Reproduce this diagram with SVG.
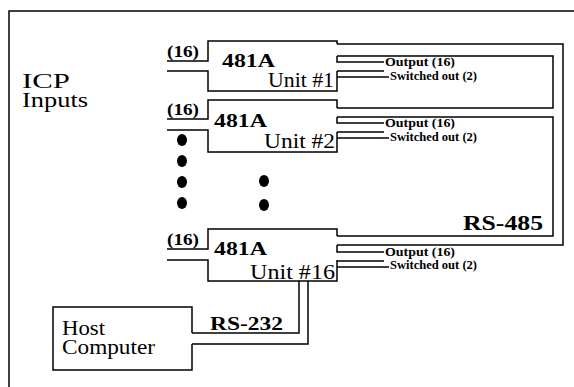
<svg xmlns="http://www.w3.org/2000/svg" width="574" height="387" viewBox="0 0 574 387">
<style>
.ln{fill:none;stroke:#000;stroke-width:1.5;stroke-linejoin:miter}
.t{font-family:"Liberation Serif","Times New Roman",serif;fill:#000}
.b{font-weight:bold}
.o{font-size:12.5px;font-weight:bold}
.dot{fill:#000}
</style>
<rect width="574" height="387" fill="#fff"/>
<rect id="frame" class="ln" x="9" y="11" width="600" height="400"/>
<g id="labels">
<text class="t" x="22" y="88" font-size="21" textLength="48" lengthAdjust="spacingAndGlyphs">ICP</text>
<text class="t" x="22" y="107" font-size="21" textLength="66" lengthAdjust="spacingAndGlyphs">Inputs</text>
<text class="t b" x="543" y="230" font-size="22" text-anchor="end" textLength="80" lengthAdjust="spacingAndGlyphs">RS-485</text>
<text class="t b" x="210" y="330" font-size="19" textLength="73" lengthAdjust="spacingAndGlyphs">RS-232</text>
</g>
<g id="unit1">
<path class="ln" d="M167,61 H208 V41 H337 V44 M167,71 H208 V91 H337 V71"/>
<text class="t b" x="167" y="57" font-size="17" textLength="32" lengthAdjust="spacingAndGlyphs">(16)</text>
<text class="t b" x="222" y="67" font-size="19" textLength="53" lengthAdjust="spacingAndGlyphs">481A</text>
<text class="t" x="334" y="87" font-size="20" text-anchor="end" textLength="66" lengthAdjust="spacingAndGlyphs">Unit #1</text>
</g>
<g id="unit2">
<path class="ln" d="M167,119 H208 V100 H337 V108 M167,130 H208 V152 H337 V132"/>
<text class="t b" x="167" y="115" font-size="17" textLength="32" lengthAdjust="spacingAndGlyphs">(16)</text>
<text class="t b" x="214" y="127" font-size="19" textLength="53" lengthAdjust="spacingAndGlyphs">481A</text>
<text class="t" x="335" y="148" font-size="20" text-anchor="end" textLength="71" lengthAdjust="spacingAndGlyphs">Unit #2</text>
</g>
<g id="unit16">
<path class="ln" d="M167,249 H208 V229 H337 V236 M167,260 H208 V281 H337 V260"/>
<text class="t b" x="167" y="245" font-size="17" textLength="32" lengthAdjust="spacingAndGlyphs">(16)</text>
<text class="t b" x="214" y="255" font-size="19" textLength="53" lengthAdjust="spacingAndGlyphs">481A</text>
<text class="t" x="335" y="279" font-size="20" text-anchor="end" textLength="85" lengthAdjust="spacingAndGlyphs">Unit #16</text>
</g>
<g id="host">
<path class="ln" d="M192,333 V307 H53 V370 H192 V344"/>
<text class="t" x="62" y="335" font-size="20" textLength="43" lengthAdjust="spacingAndGlyphs">Host</text>
<text class="t" x="62" y="354" font-size="20" textLength="93" lengthAdjust="spacingAndGlyphs">Computer</text>
</g>
<g id="ellipsis">
<ellipse class="dot" cx="182" cy="140" rx="5" ry="6"/>
<ellipse class="dot" cx="182" cy="161" rx="5" ry="6"/>
<ellipse class="dot" cx="182" cy="182" rx="5" ry="6"/>
<ellipse class="dot" cx="182" cy="203" rx="5" ry="6"/>
<ellipse class="dot" cx="264" cy="181" rx="5" ry="6"/>
<ellipse class="dot" cx="264" cy="205" rx="5" ry="6"/>
</g>
<g id="connectors">
<path class="ln" d="M337,44 H563 V245 H337"/>
<path class="ln" d="M337,56 H553 V108 H337"/>
<path class="ln" d="M337,117 H553 V236 H337"/>
<path class="ln" d="M337,56 V62 H384 M337,71 H384 M337,77 H389"/>
<path class="ln" d="M337,117 V123 H384 M337,132 H384 M337,138 H389"/>
<path class="ln" d="M337,245 V252 H384 M337,261 H384 M337,267 H389"/>
<path class="ln" d="M192,333 H299 V281 M192,344 H308 V281"/>
<text class="t o" x="385" y="66" textLength="70" lengthAdjust="spacingAndGlyphs">Output (16)</text>
<text class="t o" x="390" y="80" textLength="87" lengthAdjust="spacingAndGlyphs">Switched out (2)</text>
<text class="t o" x="385" y="127" textLength="70" lengthAdjust="spacingAndGlyphs">Output (16)</text>
<text class="t o" x="390" y="141" textLength="87" lengthAdjust="spacingAndGlyphs">Switched out (2)</text>
<text class="t o" x="385" y="256" textLength="70" lengthAdjust="spacingAndGlyphs">Output (16)</text>
<text class="t o" x="390" y="269" textLength="87" lengthAdjust="spacingAndGlyphs">Switched out (2)</text>
</g>
</svg>
